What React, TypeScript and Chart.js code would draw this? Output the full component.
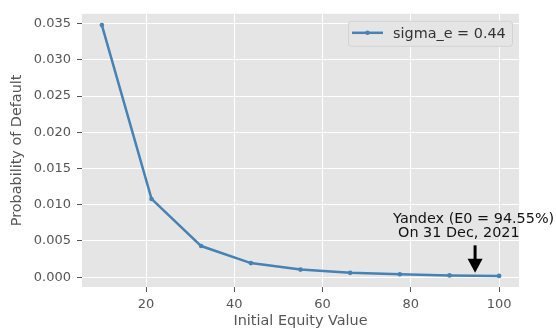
import React, { useEffect, useRef } from "react";
import { Chart, registerables } from "chart.js";

Chart.register(...registerables);

const equityValues = [10, 21.25, 32.5, 43.75, 55, 66.25, 77.5, 88.75, 100];
const defaultProb = [0.0348, 0.0108, 0.0043, 0.00195, 0.00105, 0.0006, 0.0004, 0.00025, 0.00018];
const xTicks = [20, 40, 60, 80, 100];
const yTicks = [0, 0.005, 0.01, 0.015, 0.02, 0.025, 0.03, 0.035];
const seriesLabel = "sigma_e = 0.44";
const annotationLines = ["Yandex (E0 = 94.55%)", "On 31 Dec, 2021"];
const annotationX = 94.55;

const FONT = "'DejaVu Sans', sans-serif";
const LINE_COLOR = "#4682B4";

const bgPlugin = {
  id: "bgPlugin",
  beforeDraw(chart: any) {
    const { ctx, chartArea } = chart;
    ctx.save();
    ctx.fillStyle = "#E5E5E5";
    ctx.fillRect(chartArea.left, chartArea.top, chartArea.right - chartArea.left, chartArea.bottom - chartArea.top);
    ctx.restore();
  },
};

const overlayPlugin = {
  id: "overlayPlugin",
  afterDraw(chart: any) {
    const { ctx, chartArea } = chart;
    const xs = chart.scales.x;
    const ys = chart.scales.y;
    ctx.save();
    // legend
    const bx = chartArea.right - 171;
    const by = chartArea.top + 7;
    const bw = 164;
    const bh = 25;
    ctx.beginPath();
    ctx.roundRect(bx + 0.5, by + 0.5, bw, bh, 3);
    ctx.fillStyle = "#E5E5E5";
    ctx.fill();
    ctx.strokeStyle = "#d2d2d2";
    ctx.lineWidth = 1;
    ctx.stroke();
    const ly = by + 12;
    ctx.beginPath();
    ctx.moveTo(bx + 4, ly);
    ctx.lineTo(bx + 35, ly);
    ctx.strokeStyle = LINE_COLOR;
    ctx.lineWidth = 2.5;
    ctx.stroke();
    ctx.beginPath();
    ctx.arc(bx + 19.5, ly, 2.2, 0, Math.PI * 2);
    ctx.fillStyle = LINE_COLOR;
    ctx.fill();
    ctx.fillStyle = "#333";
    ctx.font = `14.4px ${FONT}`;
    ctx.textBaseline = "middle";
    ctx.textAlign = "left";
    ctx.fillText(seriesLabel, bx + 45, ly + 1);

    // annotation
    const ax = xs.getPixelForValue(annotationX);
    const tipY = ys.getPixelForValue(0.0006);
    const tailY = ys.getPixelForValue(0.0044);
    ctx.fillStyle = "#000";
    ctx.fillRect(ax - 1.5, tailY, 3, tipY - tailY - 10);
    ctx.beginPath();
    ctx.moveTo(ax - 7.5, tipY - 14);
    ctx.lineTo(ax + 7.5, tipY - 14);
    ctx.lineTo(ax, tipY);
    ctx.closePath();
    ctx.fill();
    ctx.font = `14.4px ${FONT}`;
    ctx.textAlign = "left";
    ctx.textBaseline = "middle";
    ctx.fillStyle = "#111";
    ctx.fillText(annotationLines[0], ax - 82, ys.getPixelForValue(0.008));
    ctx.fillText(annotationLines[1], ax - 77, ys.getPixelForValue(0.006));
    ctx.restore();
  },
};

export default function App() {
  const ref = useRef<HTMLCanvasElement | null>(null);
  useEffect(() => {
    if (!ref.current) return;
    const chart = new Chart(ref.current, {
      type: "line",
      data: {
        datasets: [
          {
            label: seriesLabel,
            data: equityValues.map((x, i) => ({ x, y: defaultProb[i] })),
            borderColor: LINE_COLOR,
            backgroundColor: LINE_COLOR,
            borderWidth: 2.5,
            pointRadius: 2.3,
            pointBorderWidth: 0,
            tension: 0,
          },
        ],
      },
      options: {
        animation: false,
        responsive: false,
        maintainAspectRatio: false,
        layout: { padding: { left: 0, right: 37, top: 5, bottom: 0 } },
        plugins: { legend: { display: false }, tooltip: { enabled: false } },
        scales: {
          x: {
            type: "linear",
            min: 5.5,
            max: 104.5,
            afterBuildTicks: (s: any) => {
              s.ticks = xTicks.map((v) => ({ value: v }));
            },
            afterFit: (s: any) => {
              s.height = 44;
            },
            grid: { color: "#ffffff", lineWidth: 1, tickColor: "#555", tickLength: 5, drawTicks: true },
            border: { display: false },
            ticks: {
              color: "#555",
              font: { family: FONT, size: 13 },
              padding: 5,
              maxRotation: 0,
              callback: (v: any) => String(v),
            },
            title: {
              display: true,
              text: "Initial Equity Value",
              color: "#555",
              font: { family: FONT, size: 14.4 },
              padding: { top: 0, bottom: 1 },
            },
          },
          y: {
            type: "linear",
            min: -0.00135,
            max: 0.03635,
            afterBuildTicks: (s: any) => {
              s.ticks = yTicks.map((v) => ({ value: v }));
            },
            afterFit: (s: any) => {
              s.width = 82;
            },
            grid: { color: "#ffffff", lineWidth: 1, tickColor: "#555", tickLength: 5, drawTicks: true },
            border: { display: false },
            ticks: {
              color: "#555",
              font: { family: FONT, size: 13 },
              padding: 6,
              callback: (v: any) => Number(v).toFixed(3),
            },
            title: {
              display: true,
              text: "Probability of Default",
              color: "#555",
              font: { family: FONT, size: 14.4 },
              padding: { top: 9, bottom: 0 },
            },
          },
        },
      },
      plugins: [bgPlugin, overlayPlugin],
    } as any);
    return () => chart.destroy();
  }, []);
  return (
    <div style={{ position: "fixed", left: 0, top: 0, width: 556, height: 331, background: "#fff" }}>
      <canvas ref={ref} width={556} height={331} style={{ width: 556, height: 331, display: "block" }} />
    </div>
  );
}
